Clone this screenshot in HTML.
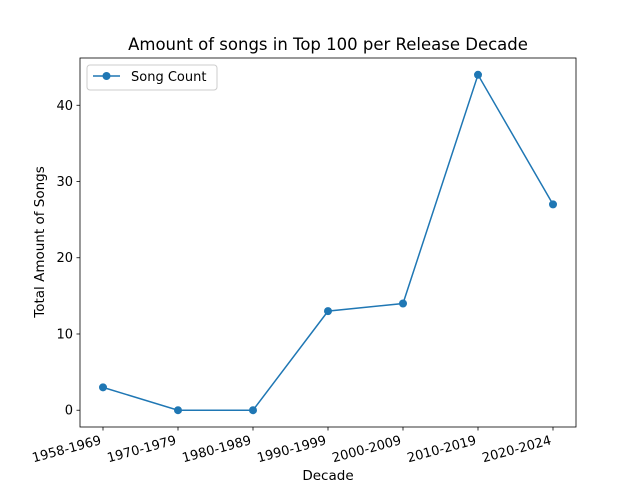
<!DOCTYPE html>
<html><head><meta charset="utf-8"><style>
body{margin:0;background:#fff}
svg{font-family:"DejaVu Sans","Liberation Sans",sans-serif}
</style></head><body>
<svg id="chart" width="640" height="480" xmlns="http://www.w3.org/2000/svg">
<rect width="640" height="480" fill="#fff"/>
<text x="328" y="50" text-anchor="middle" font-size="16.5">Amount of songs in Top 100 per Release Decade</text>
<g id="plot"></g>
<rect x="80" y="58" width="496" height="369" fill="none" stroke="#000" stroke-width="0.8"/>
<text x="328" y="480" text-anchor="middle" font-size="13.5">Decade</text>
<text transform="translate(44,242) rotate(-90)" text-anchor="middle" font-size="13.5">Total Amount of Songs</text>
<g>
<rect x="87" y="65" width="130" height="25" rx="3" fill="#fff" stroke="#ccc"/>
<line x1="93" y1="76" x2="120" y2="76" stroke="#1f77b4" stroke-width="1.5"/>
<circle cx="106.5" cy="76" r="4" fill="#1f77b4"/>
<text x="131" y="81" font-size="13">Song Count</text>
</g>
</svg>
<script>
const categories = ["1958-1969","1970-1979","1980-1989","1990-1999","2000-2009","2010-2019","2020-2024"];
const songCounts = [3,0,0,13,14,44,27];
const yTicks = [0,10,20,30,40];
const svg = document.getElementById('plot');
const NS = 'http://www.w3.org/2000/svg';
const yMin = -2.2, yMax = 46.2;
function xScale(i){return 103 + i*(553-103)/(categories.length-1);}
function yScale(v){return 427 - (v - yMin)/(yMax - yMin)*369;}
function mk(tag, attrs){const e=document.createElementNS(NS,tag);for(const k in attrs)e.setAttribute(k,attrs[k]);svg.appendChild(e);return e;}
yTicks.forEach(t=>{
  const y=yScale(t);
  const l=mk('line',{x1:76.5,x2:80,y1:y,y2:y,stroke:'#000','stroke-width':0.8});
  
  
  const tx=mk('text',{x:73,y:y+4.5,'text-anchor':'end','font-size':13});
  tx.textContent=t;
  
  
});
categories.forEach((c,i)=>{
  const x=xScale(i);
  const l=mk('line',{x1:x,x2:x,y1:427,y2:430.5,stroke:'#000','stroke-width':0.8});
  
  
  const tx=mk('text',{x:0,y:0,'text-anchor':'end','font-size':13,transform:`translate(${x-1},${444}) rotate(-15)`});
  tx.textContent=c;
  
  
});
const pts=songCounts.map((v,i)=>xScale(i)+','+yScale(v)).join(' ');
const pl=mk('polyline',{points:pts,fill:'none',stroke:'#1f77b4','stroke-width':1.5});


songCounts.forEach((v,i)=>{
  const c=mk('circle',{cx:xScale(i),cy:yScale(v),r:4,fill:'#1f77b4'});
  
  
});
</script>
</body></html>
